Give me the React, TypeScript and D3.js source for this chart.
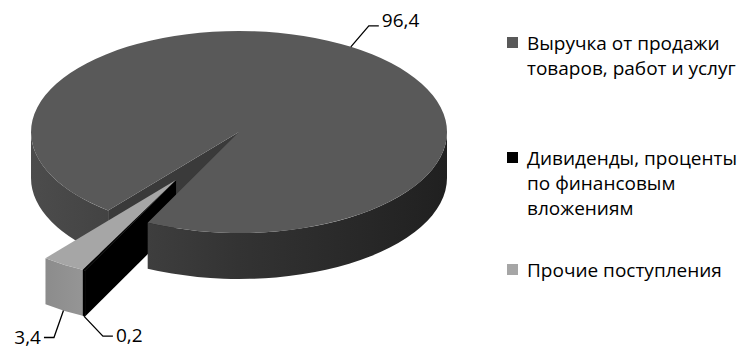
import React from "react";
import * as d3 from "d3";

// ---------- data ----------
const categories = [
  "Выручка от продажи товаров, работ и услуг",
  "Дивиденды, проценты по финансовым вложениям",
  "Прочие поступления",
];
const values = [96.4, 0.2, 3.4];
const legendLines = [
  ["Выручка от продажи", "товаров, работ и услуг"],
  ["Дивиденды, проценты", "по финансовым", "вложениям"],
  ["Прочие поступления"],
];

// ---------- styles ----------
const topColors = ["#595959", "#000000", "#a6a6a6"];
const sideColors = ["url(#mainSide)", "#000000", "url(#greySide)"];
const faceColors = ["#3a3a3a", "#000000", "#8a8a8a"];
const legendColors = ["#595959", "#000000", "#a6a6a6"];
const exploded = [false, true, true];
const FONT = "'Open Sans', sans-serif";

const W = 742;
const H = 350;
const CX = 239;
const CY = 132;
const RX = 208;
const RY = 101;
const DEPTH = 46;
const EXPLODE = 0.56;
const ROTATION = (219 * Math.PI) / 180;

// label leader layout (relative offsets from the slice anchor)
const labelLayout = [
  { elbow: [18, -21], run: 10, anchor: "start", dy: 1 },
  { elbow: [19, 20], run: 10, anchor: "start", dy: 6 },
  { elbow: [-9.5, 27], run: -10, anchor: "end", dy: 6 },
];
const LEGEND_BASE = [50, 165, 277];
const LEGEND_LINE = 25;

const fmt = (v: number) => d3.format(".1f")(v).replace(".", ",");

export default function App() {
  const pieGen = d3
    .pie<number>()
    .sort(null)
    .startAngle(ROTATION)
    .endAngle(ROTATION + 2 * Math.PI);
  const arcs = pieGen(values);
  const slices = arcs.map((p, i) => ({
    i,
    a0: p.startAngle - Math.PI / 2,
    a1: p.endAngle - Math.PI / 2,
    value: p.data,
  }));

  // explosion direction: mid angle of the exploded group
  const ex = slices.filter((s) => exploded[s.i]);
  const exMid = ex.length ? (d3.min(ex, (s) => s.a0)! + d3.max(ex, (s) => s.a1)!) / 2 : 0;
  const offX = RX * EXPLODE * Math.cos(exMid);
  const offY = RY * EXPLODE * Math.sin(exMid);

  const off = (i: number) => (exploded[i] ? [offX, offY] : [0, 0]);
  const pt = (a: number, o: number[], dz = 0) => [
    CX + o[0] + RX * Math.cos(a),
    CY + o[1] + RY * Math.sin(a) + dz,
  ];
  const f = (p: number[]) => `${p[0].toFixed(2)},${p[1].toFixed(2)}`;

  const topPath = (s: (typeof slices)[0]) => {
    const o = off(s.i);
    const c = [CX + o[0], CY + o[1]];
    const large = s.a1 - s.a0 > Math.PI ? 1 : 0;
    return `M${f(c)}L${f(pt(s.a0, o))}A${RX},${RY} 0 ${large} 1 ${f(pt(s.a1, o))}Z`;
  };
  const sidePath = (i: number, b0: number, b1: number) => {
    const o = off(i);
    const large = b1 - b0 > Math.PI ? 1 : 0;
    return (
      `M${f(pt(b0, o))}A${RX},${RY} 0 ${large} 1 ${f(pt(b1, o))}` +
      `L${f(pt(b1, o, DEPTH))}A${RX},${RY} 0 ${large} 0 ${f(pt(b0, o, DEPTH))}Z`
    );
  };
  const facePath = (i: number, a: number) => {
    const o = off(i);
    const c = [CX + o[0], CY + o[1]];
    return `M${f(c)}L${f(pt(a, o))}L${f(pt(a, o, DEPTH))}L${f([c[0], c[1] + DEPTH])}Z`;
  };
  const visibleIntervals = (a0: number, a1: number) => {
    const out: number[][] = [];
    for (let k = Math.floor(a0 / (2 * Math.PI)) - 1; k <= Math.ceil(a1 / (2 * Math.PI)) + 1; k++) {
      const lo = Math.max(a0, 2 * Math.PI * k);
      const hi = Math.min(a1, 2 * Math.PI * k + Math.PI);
      if (hi > lo) out.push([lo, hi]);
    }
    return out;
  };
  const norm = (a: number) => ((a % (2 * Math.PI)) + 2 * Math.PI) % (2 * Math.PI);

  const back: JSX.Element[] = [];
  const front: JSX.Element[] = [];
  const middleGroups: { a0: number; els: JSX.Element[] }[] = [];

  slices.forEach((s) => {
    const faces: JSX.Element[] = [];
    if (Math.cos(s.a0) < 0)
      faces.push(<path key={`fs${s.i}`} d={facePath(s.i, s.a0)} fill={faceColors[s.i]} />);
    if (Math.cos(s.a1) > 0)
      faces.push(<path key={`fe${s.i}`} d={facePath(s.i, s.a1)} fill={faceColors[s.i]} />);
    const sides = visibleIntervals(s.a0, s.a1);
    if (exploded[s.i]) {
      const els: JSX.Element[] = [...faces];
      sides.forEach((iv, k) =>
        els.push(<path key={`s${s.i}-${k}`} d={sidePath(s.i, iv[0], iv[1])} fill={sideColors[s.i]} />)
      );
      els.push(<path key={`t${s.i}`} d={topPath(s)} fill={topColors[s.i]} />);
      middleGroups.push({ a0: s.a0, els });
    } else {
      back.push(...faces);
      sides.forEach((iv, k) => {
        const el = <path key={`s${s.i}-${k}`} d={sidePath(s.i, iv[0], iv[1])} fill={sideColors[s.i]} />;
        const mid = norm((iv[0] + iv[1]) / 2);
        if (mid > norm(exMid)) back.push(el);
        else front.push(el);
      });
      front.push(<path key={`t${s.i}`} d={topPath(s)} fill={topColors[s.i]} />);
    }
  });

  // lower-left exploded slices: the one further clockwise lies behind
  const middle = middleGroups
    .sort((a, b) => norm(b.a0) - norm(a.a0))
    .flatMap((g) => g.els);

  const labels = slices.map((s) => {
    const m = (s.a0 + s.a1) / 2;
    const o = off(s.i);
    const onFront = Math.sin(m) > 0;
    const a = pt(m, o, onFront ? DEPTH : 0);
    const L = labelLayout[s.i];
    const e = [a[0] + L.elbow[0], a[1] + L.elbow[1]];
    const r = [e[0] + L.run, e[1]];
    const tx = r[0] + (L.anchor === "start" ? 3 : -3);
    return (
      <g key={`l${s.i}`}>
        <polyline points={`${f(a)} ${f(e)} ${f(r)}`} fill="none" stroke="#000" strokeWidth={1.3} />
        <text
          x={tx}
          y={r[1] + L.dy}
          textAnchor={L.anchor as any}
          fontFamily={FONT}
          fontSize={19}
          fill="#000"
        >
          {fmt(s.value)}
        </text>
      </g>
    );
  });

  return (
    <svg width={W} height={H} style={{ position: "absolute", left: 0, top: 0, background: "#fff" }}>
      <defs>
        <linearGradient id="mainSide" gradientUnits="userSpaceOnUse" x1={CX - RX} x2={CX + RX} y1={0} y2={0}>
          <stop offset="0" stopColor="#4c4c4c" />
          <stop offset="0.5" stopColor="#333333" />
          <stop offset="1" stopColor="#202020" />
        </linearGradient>
        <linearGradient id="greySide" x1="0" x2="1" y1="0" y2="0">
          <stop offset="0" stopColor="#8c8c8c" />
          <stop offset="1" stopColor="#959595" />
        </linearGradient>
      </defs>
      <g>{back}</g>
      <g>{middle}</g>
      <g>{front}</g>
      <g>{labels}</g>
      <g>
        {categories.map((c, i) => (
          <g key={c}>
            <rect x={507} y={LEGEND_BASE[i] - 13} width={11} height={11} fill={legendColors[i]} />
            <text fontFamily={FONT} fontSize={19} fill="#000">
              {legendLines[i].map((ln, j) => (
                <tspan key={j} x={527} y={LEGEND_BASE[i] + j * LEGEND_LINE}>
                  {ln}
                </tspan>
              ))}
            </text>
          </g>
        ))}
      </g>
    </svg>
  );
}
